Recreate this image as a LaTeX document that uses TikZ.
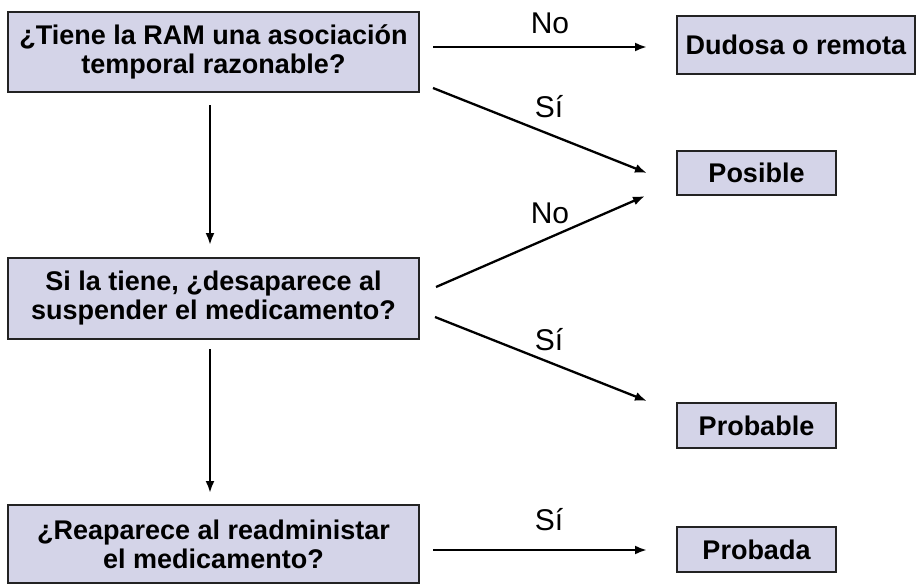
\documentclass[tikz,border=0pt]{standalone}
\usepackage{fontspec}
\setmainfont{Liberation Sans}
\usetikzlibrary{arrows.meta}
\definecolor{boxfill}{RGB}{212,212,232}
\definecolor{boxline}{RGB}{35,35,35}
\tikzset{
  qbox/.style={draw=boxline, line width=2.2pt, fill=boxfill, align=center, font=\fontsize{27}{29}\selectfont\bfseries, inner sep=0pt},
  rbox/.style={draw=boxline, line width=2.2pt, fill=boxfill, align=center, font=\fontsize{27}{29}\selectfont\bfseries, inner sep=0pt},
  conn/.style={line width=2.3pt, -{Latex[length=12pt,width=9pt]}},
  lbl/.style={font=\fontsize{30}{32}\selectfont, inner sep=0pt}
}
\begin{document}
\begin{tikzpicture}[x=1pt,y=-1pt]
\useasboundingbox (0,0) rectangle (916,584);
% question boxes
\node[qbox, minimum width=411pt, minimum height=80pt] (q1) at (213.5,52) {¿Tiene la RAM una asociación\\temporal razonable?};
\node[qbox, minimum width=411pt, minimum height=81pt] (q2) at (213.5,298.5) {Si la tiene, ¿desaparece al\\suspender el medicamento?};
\node[qbox, minimum width=411pt, minimum height=78pt] (q3) at (213.5,544) {¿Reaparece al readministar\\el medicamento?};
% result boxes
\node[rbox, minimum width=238pt, minimum height=58pt] (r1) at (796,45) {Dudosa o remota};
\node[rbox, minimum width=159pt, minimum height=44pt] (r2) at (756.5,173) {Posible};
\node[rbox, minimum width=159pt, minimum height=45pt] (r3) at (756.5,425.5) {Probable};
\node[rbox, minimum width=159pt, minimum height=45pt] (r4) at (756.5,549.5) {Probada};
% anchor coordinates
\coordinate (a1s) at (433,47);
\coordinate (a1e) at (647,47);
\coordinate (a2s) at (433,88);
\coordinate (a2e) at (647,173);
\coordinate (a3s) at (436,287);
\coordinate (a3e) at (645,196);
\coordinate (a4s) at (435,317);
\coordinate (a4e) at (647,401);
\coordinate (a5s) at (433,550);
\coordinate (a5e) at (647,550);
\coordinate (v1s) at (210,105);
\coordinate (v1e) at (210,245);
\coordinate (v2s) at (210,349);
\coordinate (v2e) at (210,493);
% connectors
\draw[conn] (a1s) -- (a1e);
\draw[conn] (a2s) -- (a2e);
\draw[conn] (a3s) -- (a3e);
\draw[conn] (a4s) -- (a4e);
\draw[conn] (a5s) -- (a5e);
\draw[conn] (v1s) -- (v1e);
\draw[conn] (v2s) -- (v2e);
% labels
\node[lbl] (l1) at (550,23) {No};
\node[lbl] (l2) at (549,107) {Sí};
\node[lbl] (l3) at (550,213) {No};
\node[lbl] (l4) at (549,340) {Sí};
\node[lbl] (l5) at (549,520) {Sí};
\end{tikzpicture}
\end{document}
